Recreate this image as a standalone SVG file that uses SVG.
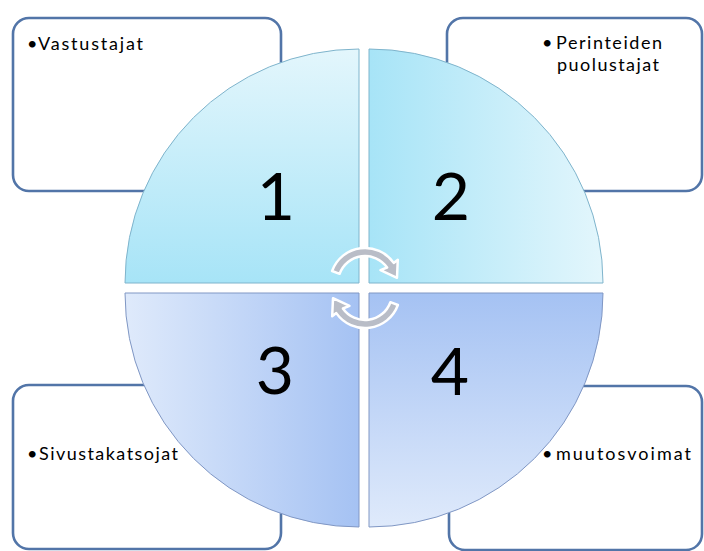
<svg xmlns="http://www.w3.org/2000/svg" width="704" height="551" viewBox="0 0 704 551">
<defs>
<style>
.box{fill:#ffffff;stroke:#5275a8;stroke-width:2.6}
.q1{stroke:#7fb4cc;stroke-width:1}
.q2{stroke:#7fb4cc;stroke-width:1}
.q3{stroke:#8097c4;stroke-width:1}
.num{font-family:Lato,"Liberation Sans",sans-serif;font-size:66px;fill:#000000;text-anchor:middle}
.lbl{font-family:Lato,"Liberation Sans",sans-serif;font-size:18px;fill:#000000}
.arr{fill:#b9bdc7;stroke:#ffffff;stroke-width:2.5;stroke-linejoin:round}
</style>
<linearGradient id="g1" x1="0" y1="0" x2="0" y2="1"><stop offset="0" stop-color="#e3f6fc"/><stop offset="1" stop-color="#a7e4f7"/></linearGradient>
<linearGradient id="g2" x1="0" y1="0" x2="1" y2="0"><stop offset="0" stop-color="#a7e4f7"/><stop offset="1" stop-color="#e3f6fc"/></linearGradient>
<linearGradient id="g3" x1="0" y1="0" x2="1" y2="0"><stop offset="0" stop-color="#dfeafb"/><stop offset="1" stop-color="#a5c2f3"/></linearGradient>
<linearGradient id="g4" x1="0" y1="0" x2="0" y2="1"><stop offset="0" stop-color="#a5c2f3"/><stop offset="1" stop-color="#dfeafb"/></linearGradient>
<path id="arrow" d="M 332.1,271.0 A 35 35 0 0 1 393.7,262.9 L 397.8,259.8 L 397.0,277.8 L 380.5,270.2 L 387.1,267.5 A 27 27 0 0 0 339.6,273.8 Z"/>
</defs>
<rect width="704" height="551" fill="#ffffff"/>
<g id="box1"><rect class="box" x="13" y="18" width="268" height="173" rx="16"/><text class="lbl" y="50"><tspan x="27">•</tspan><tspan x="38" textLength="105" lengthAdjust="spacing">Vastustajat</tspan></text></g>
<g id="box2"><rect class="box" x="447" y="18" width="255" height="173" rx="16"/><text class="lbl" y="49"><tspan x="542">•</tspan><tspan x="556" textLength="106" lengthAdjust="spacing">Perinteiden</tspan><tspan x="557" y="71" textLength="102" lengthAdjust="spacing">puolustajat</tspan></text></g>
<g id="box3"><rect class="box" x="13" y="385" width="268" height="164" rx="16"/><text class="lbl" y="460"><tspan x="27">•</tspan><tspan x="39" textLength="139" lengthAdjust="spacing">Sivustakatsojat</tspan></text></g>
<g id="box4"><rect class="box" x="449" y="386" width="253" height="164" rx="16"/><text class="lbl" y="460"><tspan x="542">•</tspan><tspan x="556" textLength="135" lengthAdjust="spacing">muutosvoimat</tspan></text></g>
<g id="q1"><path class="q1" fill="url(#g1)" d="M 359,283 L 125,283 A 234 234 0 0 1 359,49 Z"/><text class="num" x="276" y="220">1</text></g>
<g id="q2"><path class="q2" fill="url(#g2)" d="M 369,283 L 369,49 A 234 234 0 0 1 603,283 Z"/><text class="num" x="451" y="220">2</text></g>
<g id="q3"><path class="q3" fill="url(#g3)" d="M 359,293 L 359,527 A 234 234 0 0 1 125,293 Z"/><text class="num" x="275" y="394">3</text></g>
<g id="q4"><path class="q3" fill="url(#g4)" d="M 369,293 L 603,293 A 234 234 0 0 1 369,527 Z"/><text class="num" x="450" y="395">4</text></g>
<g id="connectors">
<use href="#arrow" class="arr"/>
<use href="#arrow" class="arr" transform="rotate(180 365 288)"/>
</g>
</svg>
